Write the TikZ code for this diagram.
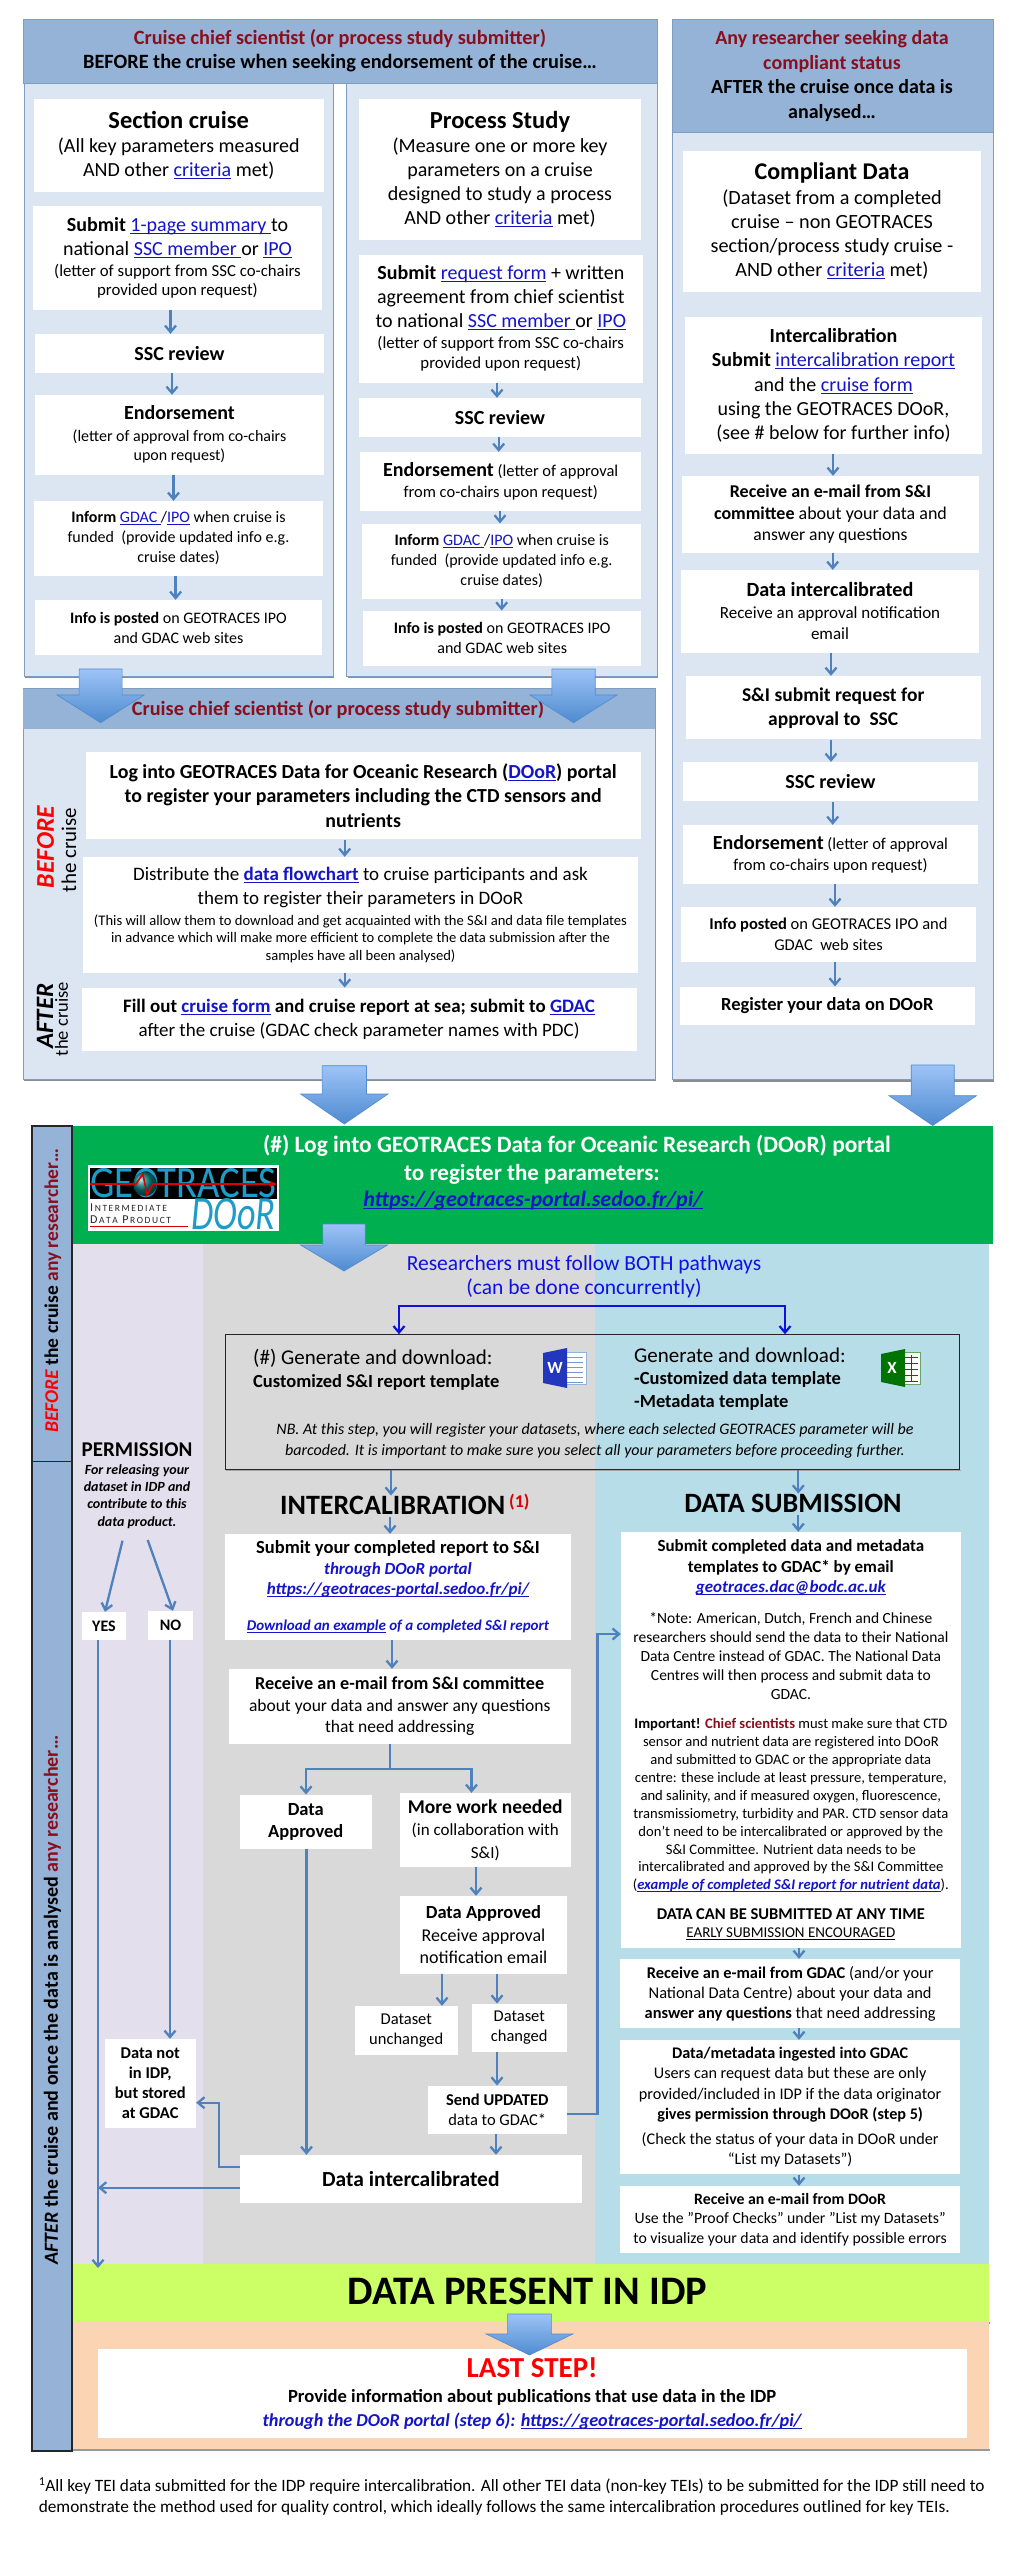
\documentclass[tikz,border=0pt]{standalone}
\usepackage{fontspec}
\usepackage{graphicx}
\setmainfont{Carlito}
\usetikzlibrary{arrows.meta,calc,shadows}
\definecolor{hdr}{HTML}{95B3D7}
\definecolor{pnl}{HTML}{DCE6F2}
\definecolor{pedge}{HTML}{7F9CC4}
\definecolor{dred}{HTML}{8A0F1E}
\definecolor{lnk}{HTML}{1414C8}
\definecolor{steel}{HTML}{4F81BD}
\definecolor{greenb}{HTML}{00B050}
\definecolor{permc}{HTML}{E4DFEC}
\definecolor{grayc}{HTML}{D9D9D9}
\definecolor{tealc}{HTML}{B7DDE8}
\definecolor{limec}{HTML}{CCFF66}
\definecolor{peach}{HTML}{FBD4B4}
\definecolor{logot}{HTML}{1E9CC8}
\definecolor{arrtop}{HTML}{9DC3F7}
\definecolor{arrbot}{HTML}{4E8BD0}
\definecolor{pathb}{HTML}{1010E0}
\newcommand{\fs}[2]{\fontsize{#1}{#2}\selectfont}
\newsavebox{\ulbox}
\newcommand{\uline}[1]{\leavevmode\sbox{\ulbox}{#1}\rlap{\raisebox{-2.4pt}{\rule{\wd\ulbox}{.9pt}}}\usebox{\ulbox}}
\newcommand{\lk}[1]{{\color{lnk}\uline{#1}}}
\tikzset{
  panel/.style={draw=pedge,line width=1pt,fill=pnl,copy shadow={shadow xshift=1pt,shadow yshift=-2pt,fill=black!45,draw=none}},
  head/.style={draw=pedge,line width=.8pt,fill=hdr},
  wbox/.style={fill=white,draw=none,inner sep=0pt},
  txt/.style={inner sep=0pt},
  conn/.style={draw=steel,line width=2.3pt,-{Straight Barb[length=6.5pt,width=11pt]}},
  plain conn/.style={draw=steel,line width=2.3pt},
  blue conn/.style={draw=pathb,line width=2.2pt,{Straight Barb[length=6.5pt,width=11pt]}-{Straight Barb[length=6.5pt,width=11pt]}},
  bigarr/.style={draw=arrbot,line width=.6pt,top color=arrtop,bottom color=arrbot},
  strip/.style={draw=black!85,line width=1.2pt,fill=hdr},
}
\newcommand{\bx}[6]{%
  \pgfmathsetmacro\bcx{(#2+#4)/2}\pgfmathsetmacro\bcy{(#3+#5)/2}%
  \pgfmathsetmacro\bw{#4-#2}\pgfmathsetmacro\bh{#5-#3}%
  \node[wbox,minimum width=\bw pt,minimum height=\bh pt] (#1) at (\bcx,\bcy) {\makebox[\bw pt]{\parbox{\dimexpr\bw pt+80pt}{\centering #6}}};}
\newcommand{\tx}[4]{\node[txt] (#1) at (#2,#3) {\makebox[0pt]{\parbox{1000pt}{\centering #4}}};}
\newcommand{\vc}[3]{\coordinate (vx) at (#3,0); \draw[conn] (vx |- #1.south) -- (vx |- #2.north);}
% big block arrow: centre x, shaft top, head start, tip, shaft half width, head half width
\newcommand{\bigarrow}[6]{%
  \draw[bigarr] ({#1-#5},#2) -- ({#1+#5},#2) -- ({#1+#5},#3) -- ({#1+#6},#3) -- (#1,#4) -- ({#1-#6},#3) -- ({#1-#5},#3) -- cycle;}
\begin{document}
\begin{tikzpicture}[x=1pt,y=-1pt]
\useasboundingbox (0,0) rectangle (1009,2560);
\fill[white] (0,0) rectangle (1009,2560);

%% ---------- top panels ----------
\draw[panel] (24,83.5) rectangle (333,676);
\draw[panel] (346.5,83.5) rectangle (657,676);
\draw[head] (23.4,19.6) rectangle (657,83.5);
\draw[panel] (672,19) rectangle (993,1079.6);
\draw[head] (672,19) rectangle (993,132);
\draw[panel] (23.4,688.7) rectangle (655,1079);
\draw[head,draw=none] (23.4,688.7) rectangle (655,729);

\tx{h1}{340}{51}{\fs{20.3}{24}\bfseries{\color{dred}Cruise chief scientist (or process study submitter)}\\BEFORE the cruise when seeking endorsement of the cruise…}
\tx{h2}{832}{76}{\fs{20}{24.4}\bfseries{\color{dred}Any researcher seeking data}\\{\color{dred}compliant status}\\AFTER the cruise once data is\\analysed…}

% section cruise column
\bx{a1}{34}{99}{323.5}{191.5}{\fs{20}{24}{\fs{24.5}{24}\bfseries Section cruise}\\(All key parameters measured\\AND other \lk{criteria} met)}
\bx{a2}{33}{206}{322}{310}{\fs{20}{24}\textbf{Submit} \lk{1-page summary }to\\national \lk{SSC member }or \lk{IPO}\\\fs{16.8}{21}(letter of support from SSC co-chairs\\\fs{16.8}{19.6}provided upon request)}
\bx{a3}{35}{334}{324}{373}{\fs{20}{24}\bfseries SSC review}
\bx{a4}{35}{395}{324}{474.5}{\fs{16}{22}{\fs{20}{24}\bfseries Endorsement}\\(letter of approval from co-chairs\\\fs{16}{19}upon request)}
\bx{a5}{34}{501}{323}{575.5}{\fs{16}{20}\textbf{Inform} \lk{GDAC }/\lk{IPO} when cruise is\\funded\ \ (provide updated info e.g.\\cruise dates)}
\bx{a6}{35}{600}{322}{655}{\fs{16}{20}\textbf{Info is posted} on GEOTRACES IPO\\and GDAC web sites}
\vc{a2}{a3}{170.5}\vc{a3}{a4}{172}\vc{a4}{a5}{173.5}\vc{a5}{a6}{175.6}

% process study column
\bx{b1}{358.6}{99}{641.4}{240}{\fs{20}{24}{\fs{24.5}{24}\bfseries Process Study}\\(Measure one or more key\\parameters on a cruise\\designed to study a process\\AND other \lk{criteria} met)}
\bx{b2}{358.6}{254.5}{643}{382.6}{\fs{20}{24}\textbf{Submit} \lk{request form} + written\\agreement from chief scientist\\to national \lk{SSC member }or \lk{IPO}\\\fs{16.8}{21}(letter of support from SSC co-chairs\\\fs{16.8}{20}provided upon request)}
\bx{b3}{358.6}{398}{641.4}{437}{\fs{20}{24}\bfseries SSC review}
\bx{b4}{360}{452}{641.4}{511}{\fs{16.5}{21}{\fs{20}{21}\bfseries Endorsement} (letter of approval\\from co-chairs upon request)}
\bx{b5}{362}{523.6}{641.4}{598.7}{\fs{16}{20}\textbf{Inform} \lk{GDAC }/\lk{IPO} when cruise is\\funded\ \ (provide updated info e.g.\\cruise dates)}
\bx{b6}{363}{610.7}{641.4}{665.6}{\fs{16}{20}\textbf{Info is posted} on GEOTRACES IPO\\and GDAC web sites}
\vc{b2}{b3}{497}\vc{b3}{b4}{498.7}\vc{b4}{b5}{500}\vc{b5}{b6}{501.7}

% compliant column
\bx{c1}{683}{150.7}{981}{291.8}{\fs{20.2}{24.2}{\fs{24}{24}\bfseries Compliant Data}\\(Dataset from a completed\\cruise – non GEOTRACES\\section/process study cruise -\\AND other \lk{criteria} met)}
\bx{c2}{685}{317}{982}{454}{\fs{20}{24.4}\textbf{Intercalibration}\\\textbf{Submit} \lk{intercalibration report}\\and the \lk{cruise form}\\using the GEOTRACES DOoR,\\(see \# below for further info)}
\bx{c3}{682}{476}{979}{552.5}{\fs{18}{22}\textbf{Receive an e-mail from S\&I}\\\textbf{committee} about your data and\\\fs{17.6}{21.5}answer any questions}
\bx{c4}{681}{570}{979}{652.5}{\fs{17}{22}{\fs{20.2}{22}\bfseries Data intercalibrated}\\Receive an approval notification\\\fs{17}{21}email}
\bx{c5}{685.7}{676}{980.7}{739.4}{\fs{19.5}{24}\bfseries S\&I submit request for\\approval to\ \ SSC}
\bx{c6}{683}{762}{978}{801.4}{\fs{20}{24}\bfseries SSC review}
\bx{c7}{683}{825}{978}{884}{\fs{16.5}{21}{\fs{20}{21}\bfseries Endorsement} (letter of approval\\from co-chairs upon request)}
\bx{c8}{681}{907}{976}{962}{\fs{16.5}{20.7}\textbf{Info posted} on GEOTRACES IPO and\\GDAC\ \ web sites}
\bx{c9}{680}{986.6}{974.7}{1025}{\fs{18.5}{24}\bfseries Register your data on DOoR}
\vc{c2}{c3}{833}\vc{c3}{c4}{832.7}\vc{c4}{c5}{831}\vc{c5}{c6}{831}\vc{c6}{c7}{832.7}\vc{c7}{c8}{835}\vc{c8}{c9}{835}

% chief scientist panel
\tx{h3}{338}{710}{\fs{20.3}{24}\bfseries\color{dred}Cruise chief scientist (or process study submitter)}
\bx{d1}{86}{751.7}{640.5}{839.3}{\fs{19.9}{24.4}\bfseries Log into GEOTRACES Data for Oceanic Research (\lk{DOoR}) portal\\to register your parameters including the CTD sensors and\\nutrients}
\bx{d2}{83}{857}{638}{972.7}{\fs{19}{23.7}Distribute the {\bfseries\lk{data flowchart}} to cruise participants and ask\\them to register their parameters in DOoR\\\fs{14.6}{21}(This will allow them to download and get acquainted with the S\&I and data file templates\\\fs{14.6}{17.5}in advance which will make more efficient to complete the data submission after the\\samples have all been analysed)}
\bx{d3}{81.5}{987.7}{636.6}{1051}{\fs{19}{24}\textbf{Fill out \lk{cruise form} and cruise report at sea; submit to \lk{GDAC}}\\after the cruise (GDAC check parameter names with PDC)}
\vc{d1}{d2}{344.7}\vc{d2}{d3}{344.7}
\node[txt,rotate=90] (bf1) at (45.5,847) {\fs{25.6}{26}\bfseries\itshape\color{red}BEFORE};
\node[txt,rotate=90] (bf2) at (69,850) {\fs{21}{21}the cruise};
\node[txt,rotate=90] (af1) at (45,1016) {\fs{25}{26}\bfseries\itshape AFTER};
\node[txt,rotate=90] (af2) at (61.6,1019) {\fs{18.5}{19}the cruise};

%% ---------- lower chart backgrounds ----------
\fill[permc] (72,1244) rectangle (203,2264);
\fill[grayc] (203,1244) rectangle (595,2264);
\fill[tealc] (595,1244) rectangle (989,2264);
\fill[greenb] (72,1126) rectangle (993,1244);
\fill[black!45] (72,2322) rectangle (990,2324);
\fill[peach] (72,2322) rectangle (989,2449);
\fill[black!40] (72,2449) rectangle (990,2451);
\fill[limec] (72,2264) rectangle (989,2321.7);
\draw[strip] (32,1126) rectangle (72,1461.7);
\draw[strip] (32,1461.7) rectangle (72,2451);
\node[txt,rotate=90] (s1) at (52.8,1290.5) {\fs{19.5}{20}\bfseries{\itshape\color{red}BEFORE} the cruise {\color{dred}any researcher…}};
\node[txt,rotate=90] (s2) at (52.4,2000) {\fs{20}{20}\bfseries{\itshape AFTER} the cruise and once the data is analysed {\color{dred}any researcher…}};

% green header
\tx{g1}{577}{1145.7}{\fs{23.4}{24}\bfseries\color{white}(\#) Log into GEOTRACES Data for Oceanic Research (DOoR) portal}
\tx{g2}{532}{1174}{\fs{23}{24}\bfseries\color{white}to register the parameters:}
\tx{g3}{533}{1200.7}{\fs{22}{24}\bfseries\itshape\lk{https://geotraces-portal.sedoo.fr/pi/}}

% logo
\fill[white] (88,1165) rectangle (279,1231);
\fill[black] (90,1168) rectangle (277,1199);
\node[txt] (lg1) at (183.5,1183.5) {\resizebox{186pt}{29pt}{\color{logot}GEOTRACES}};
\shade[ball color=green!50!blue] (145,1184) circle (12);
\draw[red!85!black,line width=1.6pt] (90,1184) -- (136,1184) -- (143,1174) -- (147,1195) -- (153,1184) -- (272,1184);
\fill[red!85!black] (277,1184) -- (270,1181) -- (270,1187) -- cycle;
\node[txt,anchor=west] (lg2) at (90,1207.5) {\fs{12}{12}\color{black!85}I\fs{9.5}{12}\,N\,T\,E\,R\,M\,E\,D\,I\,A\,T\,E};
\node[txt,anchor=west] (lg3) at (90,1220) {\fs{12}{12}\color{black!85}D\fs{9.5}{12}\,A\,T\,A\ \ \fs{12}{12}P\fs{9.5}{12}\,R\,O\,D\,U\,C\,T};
\draw[red!80!black,line width=.8pt] (90,1226.7) -- (188,1226.7);
\node[txt,anchor=west] (lg4) at (191,1214) {\resizebox{84pt}{31pt}{\itshape\color{logot}DOoR}};

% pathways
\tx{r1}{584}{1277}{\fs{21.5}{24}\color{pathb}Researchers must follow BOTH pathways\\(can be done concurrently)}
\node[draw=black!85,line width=1pt,minimum width=734.5pt,minimum height=134.3pt,inner sep=0] (gb) at (592.25,1401.85) {};
\draw[black!35,line width=1.2pt] (226,1470.2) -- (960.5,1470.2);
\coordinate (bL) at (399,1306); \coordinate (bR) at (785,1306);
\draw[blue conn] (bL |- gb.north) -- (bL) -- (bR) -- (bR |- gb.north);
\node[txt,anchor=west] (t1) at (253,1358) {\fs{21}{24}(\#) Generate and download:};
\node[txt,anchor=west] (t2) at (253,1382) {\fs{18.5}{24}\bfseries Customized S\&I report template};
\node[txt,anchor=west] (t3) at (634,1355) {\fs{21}{24}Generate and download:};
\node[txt,anchor=west] (t4) at (634,1379) {\fs{18.5}{24}\bfseries -Customized data template};
\node[txt,anchor=west] (t5) at (634,1402) {\fs{18.5}{24}\bfseries -Metadata template};
\tx{t6}{595}{1441}{\fs{16}{20.5}\itshape NB. At this step, you will register your datasets, where each selected GEOTRACES parameter will be\\barcoded. It is important to make sure you select all your parameters before proceeding further.}
% word icon
\fill[white,draw=steel!60] (563,1352) rectangle (586,1384);
\foreach \yy in {1357,1362,...,1382}{\draw[steel!80,line width=.8pt] (567,\yy) -- (583,\yy);}
\fill[blue!50!steel!85!black] (543,1353) -- (567,1348) -- (567,1388) -- (543,1383) -- cycle;
\node[txt] (wi) at (555,1368) {\fs{17}{17}\bfseries\color{white}W};
% excel icon
\fill[white,draw=green!40!black!60] (903,1352) rectangle (920,1384);
\foreach \yy in {1357,1363,...,1381}{\draw[green!40!black,line width=.8pt] (905,\yy) -- (918,\yy);}
\draw[green!40!black,line width=.8pt] (911.5,1355) -- (911.5,1382);
\fill[green!45!black] (881,1354) -- (905,1349) -- (905,1387) -- (881,1382) -- cycle;
\node[txt] (xi) at (892,1368) {\fs{17}{17}\bfseries\color{white}X};

% permission column
\tx{p1}{137}{1450}{\fs{21}{24}\bfseries PERMISSION}
\tx{p2}{137}{1496.5}{\fs{14}{17.3}\bfseries\itshape For releasing your\\dataset in IDP and\\contribute to this\\data product.}
\bx{yes}{82}{1612}{126}{1640}{\fs{16}{20}\bfseries YES}
\bx{no}{148}{1611}{193}{1640}{\fs{16}{20}\bfseries NO}
\coordinate (ya) at (122.5,1540.7); \coordinate (na) at (147.7,1540);
\coordinate (yt) at (105,0); \coordinate (nt) at (173,0);
\draw[conn] (ya) -- (yes.north -| yt);
\draw[conn] (na) -- (no.north -| nt);
\bx{dn}{104.5}{2039}{196}{2128}{\fs{16.5}{20}\bfseries Data not\\in IDP,\\but stored\\at GDAC}
\coordinate (yx) at (98,0); \coordinate (nx) at (170,0);
\coordinate (lime) at (98,2268);
\draw[conn] (yx |- yes.south) -- (lime);
\draw[conn] (nx |- no.south) -- (nx |- dn.north);

% intercalibration column
\node[txt,anchor=west] (ic) at (280,1505) {\fs{28}{33}\bfseries INTERCALIBRATION};
\node[txt,anchor=west] (ics) at (509,1501.7) {\fs{18}{18}\bfseries\color{red!85!black}(1)};
\bx{i1}{225.4}{1534}{570.6}{1639.7}{\fs{18.5}{20.5}\textbf{Submit your completed report to S\&I}\\\fs{17}{20.5}{\bfseries\itshape\color{lnk}through DOoR portal}\\{\bfseries\itshape\lk{https://geotraces-portal.sedoo.fr/pi/}}\\\fs{15}{35.5}{\bfseries\itshape\lk{Download an example}{\color{lnk}\ of a completed S\&I report}}}
\bx{i2}{228.9}{1669}{570.6}{1743.7}{\fs{18.2}{21.7}\textbf{Receive an e-mail from S\&I committee}\\\fs{17.5}{21.7}about your data and answer any questions\\that need addressing}
\bx{i3}{240}{1794.7}{371.6}{1848.7}{\fs{18.5}{22.5}\bfseries Data\\Approved}
\bx{i4}{400}{1793}{570.6}{1867}{\fs{17}{22.5}{\fs{19.5}{22}\bfseries More work needed}\\(in collaboration with\\S\&I)}
\bx{i5}{400}{1896}{567}{1973.7}{\fs{18.5}{22.5}\textbf{Data Approved}\\\fs{18}{22.5}Receive approval\\notification email}
\bx{i6}{354.8}{2006}{457.7}{2054.7}{\fs{16.5}{20}Dataset\\unchanged}
\bx{i7}{471.5}{2003.7}{567}{2052}{\fs{16.5}{20}Dataset\\changed}
\bx{i8}{427.5}{2085.7}{567}{2134}{\fs{16.5}{20.5}\textbf{Send UPDATED}\\data to GDAC*}
\bx{i9}{240}{2155}{581.7}{2202.7}{\fs{21.5}{24}\bfseries Data intercalibrated}

\vc{gb}{ic}{391}
\coordinate (ia) at (390,1516.7); \draw[conn] (ia) -- (ia |- i1.north);
\vc{i1}{i2}{392}
\coordinate (sx) at (390,0); \coordinate (sy) at (390,1769);
\draw[plain conn] (sx |- i2.south) -- (sy);
\coordinate (sl) at (306,1769); \coordinate (sr) at (471.5,1769);
\draw[conn] (sy) -- (sl) -- (sl |- i3.north);
\draw[conn] (sy) -- (sr) -- (sr |- i4.north);
\vc{i3}{i9}{306.5}
\vc{i4}{i5}{476}
\vc{i5}{i6}{442}
\vc{i5}{i7}{497}
\vc{i7}{i8}{497}
\vc{i8}{i9}{496}
\coordinate (k1) at (240,2167); \coordinate (k2) at (219,2102.7);
\draw[conn] (k1) -| (k2) -- (k2 -| dn.east);
\coordinate (k3) at (240,2187.7);
\draw[conn] (k3) -- (k3 -| yx);

% data submission column
\node[txt] (ds0) at (793,1503) {\fs{28}{33}\bfseries DATA SUBMISSION};
\bx{e1}{621}{1532}{960.7}{1947.7}{\fs{17}{20.2}\textbf{Submit completed data and metadata}\\\textbf{templates to GDAC* by email}\\{\bfseries\itshape\lk{geotraces.dac@bodc.ac.uk}}\\
\fs{15.5}{31}*Note: American, Dutch, French and Chinese\\\fs{15.5}{19}researchers should send the data to their National\\Data Centre instead of GDAC. The National Data\\Centres will then process and submit data to\\GDAC.\\
\fs{14.6}{29.5}\textbf{Important!} {\bfseries\color{dred}Chief scientists} must make sure that CTD\\\fs{14.6}{17.9}sensor and nutrient data are registered into DOoR\\and submitted to GDAC or the appropriate data\\centre: these include at least pressure, temperature,\\and salinity, and if measured oxygen, fluorescence,\\transmissiometry, turbidity and PAR. CTD sensor data\\don't need to be intercalibrated or approved by the\\S\&I Committee. Nutrient data needs to be\\intercalibrated and approved by the S\&I Committee\\({\bfseries\itshape\lk{example of completed S\&I report for nutrient data}}).\\
\fs{16.5}{30}\textbf{DATA CAN BE SUBMITTED AT ANY TIME}\\\fs{15}{17.5}\uline{EARLY SUBMISSION ENCOURAGED}}
\bx{e2}{620.3}{1959}{960}{2028}{\fs{16.4}{20}\textbf{Receive an e-mail from GDAC} (and/or your\\National Data Centre) about your data and\\\textbf{answer any questions} that need addressing}
\bx{e3}{620.3}{2040}{960}{2174.3}{\fs{16.2}{20.3}\textbf{Data/metadata ingested into GDAC}\\Users can request data but these are only\\provided/included in IDP if the data originator\\\textbf{gives permission through DOoR (step 5)}\\\fs{16.2}{24.7}(Check the status of your data in DOoR under\\\fs{16.2}{20.3}“List my Datasets”)}
\bx{e4}{620.3}{2186}{960}{2253.3}{\fs{15.8}{19.7}\textbf{Receive an e-mail from DOoR}\\Use the "Proof Checks" under "List my Datasets"\\to visualize your data and identify possible errors}
\vc{gb}{ds0}{798.3}
\coordinate (da) at (798.3,1515); \draw[conn] (da) -- (da |- e1.north);
\vc{e1}{e2}{799}\vc{e2}{e3}{799}\vc{e3}{e4}{799}
\coordinate (m1) at (567,2114); \coordinate (m2) at (597.5,1634);
\draw[conn] (m1 -| i8.east) -| (m2) -- (m2 -| e1.west);

% bottom
\tx{dp}{527.7}{2291.7}{\fs{40.5}{41}\bfseries DATA PRESENT IN IDP}
\bx{l1}{97.8}{2349}{966.5}{2437.7}{\fs{18.6}{25}{\fs{29}{30}\bfseries\color{red}LAST STEP!}\\\textbf{Provide information about publications that use data in the IDP}\\\fs{18.2}{24}{\bfseries\itshape\color{lnk}through the DOoR portal (step 6): \lk{https://geotraces-portal.sedoo.fr/pi/}}}
\node[txt,anchor=west] (fn) at (38.6,2496.3) {\parbox{965pt}{\raggedright\fs{17.3}{20.7}\textsuperscript{1}All key TEI data submitted for the IDP require intercalibration. All other TEI data (non-key TEIs) to be submitted for the IDP still need to\\demonstrate the method used for quality control, which ideally follows the same intercalibration procedures outlined for key TEIs.}};

%% ---------- block arrows ----------
\bigarrow{100.6}{669}{695}{722.7}{21.5}{43.5}
\bigarrow{573.5}{669}{695}{722.7}{21.7}{43.5}
\bigarrow{344.3}{1065.7}{1094}{1124}{22.2}{43.7}
\bigarrow{932.7}{1065}{1095.7}{1125.5}{21.5}{43.8}
\bigarrow{344}{1224}{1245}{1271}{21.2}{43.5}
\bigarrow{529.5}{2314}{2334}{2355}{21.9}{43.3}
\end{tikzpicture}
\end{document}
